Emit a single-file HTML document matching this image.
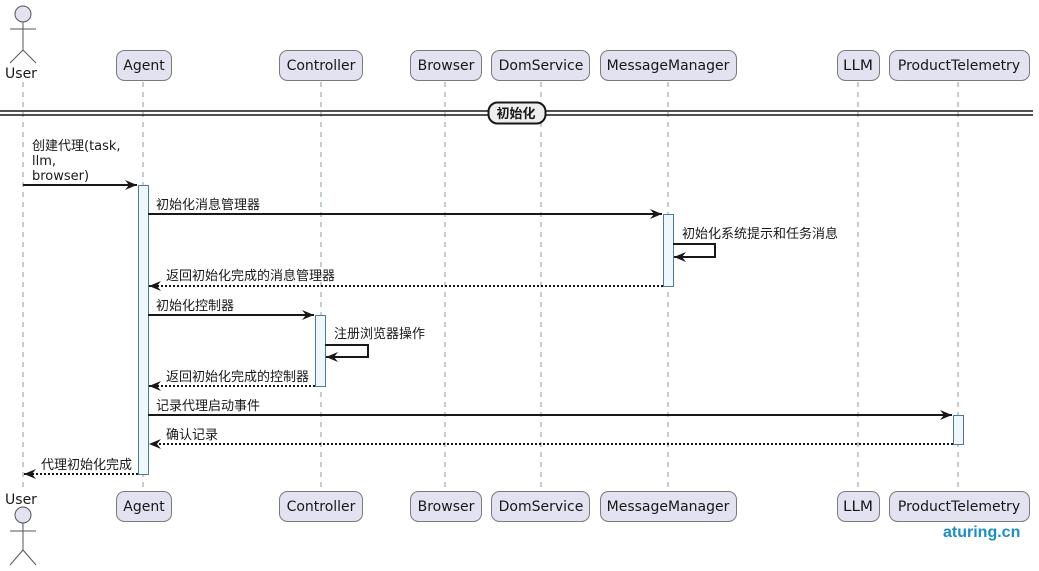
<!DOCTYPE html>
<html><head><meta charset="utf-8"><style>
html,body{margin:0;padding:0;background:#fff;}
svg{display:block;}
text{font-family:"DejaVu Sans","Noto Sans CJK SC",sans-serif;}
.m{font-family:"Liberation Sans","Noto Sans CJK SC",sans-serif;}
</style></head><body>
<svg width="1039" height="571" viewBox="0 0 1039 571" xmlns="http://www.w3.org/2000/svg">
<defs>
<marker id="ah" markerWidth="14" markerHeight="12" refX="12" refY="6" orient="auto" markerUnits="userSpaceOnUse">
<path d="M0,1 L12,6 L0,11 L4,6 Z" fill="#181818"/>
</marker>
</defs>
<!-- lifelines -->
<g stroke="#8a9aa8" stroke-width="1" stroke-dasharray="5,5" fill="none">
<line x1="23" y1="82" x2="23" y2="488"/>
<line x1="143" y1="82" x2="143" y2="488"/>
<line x1="321" y1="82" x2="321" y2="488"/>
<line x1="445" y1="82" x2="445" y2="488"/>
<line x1="541" y1="82" x2="541" y2="488"/>
<line x1="668" y1="82" x2="668" y2="488"/>
<line x1="858" y1="82" x2="858" y2="488"/>
<line x1="958" y1="82" x2="958" y2="488"/>
</g>
<!-- top actor -->
<g stroke="#555" stroke-width="1" fill="none">
<circle cx="23" cy="14" r="8" fill="#e2e2f0"/>
<line x1="23" y1="22" x2="23" y2="50"/>
<line x1="10" y1="29" x2="36" y2="29"/>
<line x1="23" y1="50" x2="10" y2="63"/>
<line x1="23" y1="50" x2="36" y2="63"/>
</g>
<text x="21" y="78" font-size="14" text-anchor="middle" fill="#181818">User</text>
<!-- bottom actor -->
<text x="21" y="504" font-size="14" text-anchor="middle" fill="#181818">User</text>
<g stroke="#555" stroke-width="1" fill="none">
<circle cx="23" cy="515" r="8" fill="#e2e2f0"/>
<line x1="23" y1="523" x2="23" y2="550"/>
<line x1="10" y1="531" x2="36" y2="531"/>
<line x1="23" y1="550" x2="10" y2="565"/>
<line x1="23" y1="550" x2="36" y2="565"/>
</g>
<!-- participant boxes -->
<g fill="#e2e2f0" stroke="#7a7a7a" stroke-width="1">
<rect x="116.5" y="50.5" width="55" height="30" rx="8"/>
<rect x="279.5" y="50.5" width="83" height="30" rx="8"/>
<rect x="410.5" y="50.5" width="71" height="30" rx="8"/>
<rect x="491.5" y="50.5" width="98" height="30" rx="8"/>
<rect x="600.5" y="50.5" width="136" height="30" rx="8"/>
<rect x="837.5" y="50.5" width="42" height="30" rx="8"/>
<rect x="889.5" y="50.5" width="140" height="30" rx="8"/>
<rect x="116.5" y="491.5" width="55" height="30" rx="8"/>
<rect x="279.5" y="491.5" width="83" height="30" rx="8"/>
<rect x="410.5" y="491.5" width="71" height="30" rx="8"/>
<rect x="491.5" y="491.5" width="98" height="30" rx="8"/>
<rect x="600.5" y="491.5" width="136" height="30" rx="8"/>
<rect x="837.5" y="491.5" width="42" height="30" rx="8"/>
<rect x="889.5" y="491.5" width="140" height="30" rx="8"/>
</g>
<g font-size="14" fill="#181818" text-anchor="middle">
<text x="144" y="70">Agent</text>
<text x="321" y="70">Controller</text>
<text x="446" y="70">Browser</text>
<text x="541" y="70">DomService</text>
<text x="668" y="70">MessageManager</text>
<text x="858" y="70" textLength="30" lengthAdjust="spacingAndGlyphs">LLM</text>
<text x="959" y="70">ProductTelemetry</text>
<text x="144" y="511">Agent</text>
<text x="321" y="511">Controller</text>
<text x="446" y="511">Browser</text>
<text x="541" y="511">DomService</text>
<text x="668" y="511">MessageManager</text>
<text x="858" y="511" textLength="30" lengthAdjust="spacingAndGlyphs">LLM</text>
<text x="959" y="511">ProductTelemetry</text>
</g>
<!-- divider -->
<g stroke="#181818" stroke-width="1.5">
<line x1="0" y1="111" x2="1033" y2="111"/>
<line x1="0" y1="115" x2="1033" y2="115"/>
</g>
<rect x="488.5" y="102.5" width="57" height="21" rx="9" fill="#eeeeee" stroke="#181818" stroke-width="2"/>
<text x="516" y="118" font-size="13" font-weight="bold" text-anchor="middle" fill="#181818">初始化</text>
<!-- activation boxes -->
<g fill="#eef7fc" stroke="#4f7a96" stroke-width="1">
<rect x="138.5" y="185.5" width="10" height="289"/>
<rect x="663.5" y="214.5" width="10" height="72"/>
<rect x="315.5" y="315.5" width="10" height="71"/>
<rect x="953.5" y="415.5" width="10" height="29"/>
</g>
<!-- messages -->
<g stroke="#181818" fill="none" stroke-width="2">
<line x1="23" y1="185" x2="137" y2="185" marker-end="url(#ah)"/>
<line x1="148" y1="214" x2="662" y2="214" marker-end="url(#ah)"/>
<polyline points="673,244 715,244 715,257 674,257" marker-end="url(#ah)"/>
<line x1="663" y1="286" x2="149" y2="286" stroke-dasharray="2,2" marker-end="url(#ah)"/>
<line x1="148" y1="315" x2="314" y2="315" marker-end="url(#ah)"/>
<polyline points="325,345 368,345 368,357 326,357" marker-end="url(#ah)"/>
<line x1="315" y1="386" x2="149" y2="386" stroke-dasharray="2,2" marker-end="url(#ah)"/>
<line x1="148" y1="415" x2="952" y2="415" marker-end="url(#ah)"/>
<line x1="953" y1="444" x2="149" y2="444" stroke-dasharray="2,2" marker-end="url(#ah)"/>
<line x1="138" y1="474" x2="24" y2="474" stroke-dasharray="2,2" marker-end="url(#ah)"/>
</g>
<g font-size="13" fill="#181818">
<text x="32" y="150">创建代理(task,</text>
<text x="32" y="165">llm,</text>
<text x="32" y="180">browser)</text>
<text x="156" y="209">初始化消息管理器</text>
<text x="682" y="238">初始化系统提示和任务消息</text>
<text x="166" y="280">返回初始化完成的消息管理器</text>
<text x="156" y="310">初始化控制器</text>
<text x="334" y="338">注册浏览器操作</text>
<text x="166" y="381">返回初始化完成的控制器</text>
<text x="156" y="410">记录代理启动事件</text>
<text x="166" y="439">确认记录</text>
<text x="41" y="469">代理初始化完成</text>
</g>
<text class="m" x="943" y="537" font-size="16" font-weight="bold" fill="#1a8fc6">aturing.cn</text>
</svg>
</body></html>
